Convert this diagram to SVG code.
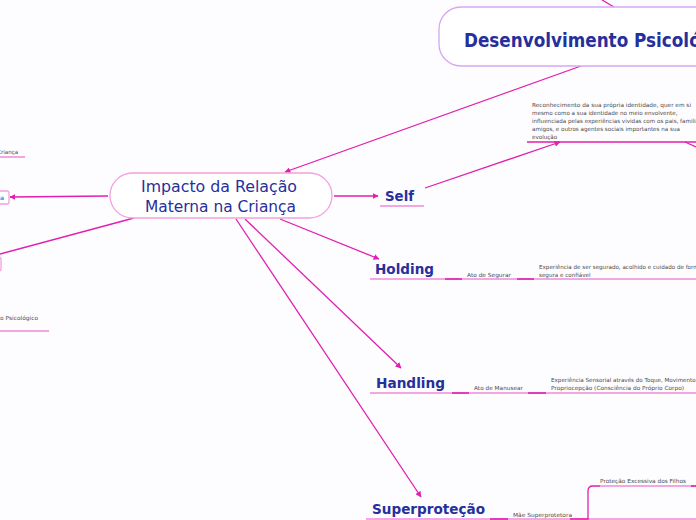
<svg xmlns="http://www.w3.org/2000/svg" width="696" height="520" viewBox="0 0 696 520">
<defs>
<marker id="arr" viewBox="0 0 10 10" refX="9" refY="5" markerWidth="6" markerHeight="6" markerUnits="userSpaceOnUse" orient="auto">
<path d="M0,0 L10,5 L0,10 z" fill="#e21fae"/>
</marker>
<style>
.c{stroke:#e21fae;stroke-width:1.3;fill:none}
.ul{stroke:#f2a6e2;stroke-width:2;fill:none}
.ud{stroke:#e03cbc;stroke-width:2;fill:none}
.t{font-family:"DejaVu Sans","Noto Sans",sans-serif;fill:#262f9c}
.b{font-weight:bold}
.s{font-family:"DejaVu Sans","Noto Sans",sans-serif;fill:#4a4a4a;font-size:5.6px}
</style>
</defs>
<rect width="696" height="520" fill="#fdfcfe"/>
<g id="connectors">
<path class="c" d="M602,0 L614,7"/>
<path class="c" d="M581,66 L285,172" marker-end="url(#arr)"/>
<path class="c" d="M108,196 L10,197" marker-end="url(#arr)"/>
<path class="c" d="M134,218 L0,254"/>
<path class="c" d="M334,196 L378,196" marker-end="url(#arr)"/>
<path class="c" d="M425,188 L560,142" marker-end="url(#arr)"/>
<path class="c" d="M685,142 L696,147"/>
<path class="c" d="M280,219 L379,259" marker-end="url(#arr)"/>
<path class="c" d="M245,219 L401,368" marker-end="url(#arr)"/>
<path class="c" d="M236,219 L421,497" marker-end="url(#arr)"/>
</g>
<g id="main">
<rect x="439" y="7" width="300" height="59" rx="22" fill="#ffffff" stroke="#d7a6f2" stroke-width="1.3"/>
<text class="t b" x="464" y="47" font-size="19" textLength="276" lengthAdjust="spacingAndGlyphs">Desenvolvimento Psicológico</text>
</g>
<g id="central">
<rect x="110" y="173" width="222" height="45" rx="22.5" fill="#ffffff" stroke="#f2a0de" stroke-width="1.3"/>
<text class="t" x="141" y="192" font-size="16" textLength="156" lengthAdjust="spacingAndGlyphs">Impacto da Relação</text>
<text class="t" x="145" y="212" font-size="16" textLength="151" lengthAdjust="spacingAndGlyphs">Materna na Criança</text>
</g>
<g id="left-crianca">
<text class="s" x="-3" y="154">Criança</text>
<path class="ul" d="M0,157 L25,157" stroke-width="1.3"/>
</g>
<g id="left-box">
<rect x="-40" y="191" width="49" height="13" rx="2" fill="#ffffff" stroke="#f2a0de" stroke-width="1.3"/>
<text x="0" y="200" font-family="DejaVu Sans,sans-serif" font-size="6" font-weight="bold" fill="#1aa0e6">a</text>
</g>
<g id="left-box2">
<rect x="-40" y="257" width="41" height="14" rx="2" fill="#ffffff" stroke="#f2a0de" stroke-width="1.3"/>
</g>
<g id="left-psico">
<text class="s" x="0" y="320" textLength="38" lengthAdjust="spacingAndGlyphs">o Psicológico</text>
<path class="ul" d="M0,331 L49,331" stroke-width="1.3"/>
</g>
<g id="self">
<text class="t b" x="385" y="201" font-size="14" textLength="29" lengthAdjust="spacingAndGlyphs">Self</text>
<path class="ul" d="M380,206 L424,206"/>
</g>
<g id="self-desc">
<text class="s" x="532" y="107" textLength="159" lengthAdjust="spacingAndGlyphs">Reconhecimento da sua própria identidade, quer em si</text>
<text class="s" x="532" y="115">mesmo como a sua identidade no meio envolvente,</text>
<text class="s" x="532" y="123">influenciada pelas experiências vividas com os pais, familiares,</text>
<text class="s" x="532" y="131">amigos, e outros agentes sociais importantes na sua</text>
<text class="s" x="532" y="139">evolução</text>
<path class="c" d="M527,142 L696,142"/>
</g>
<g id="holding">
<text class="t b" x="375" y="274" font-size="14" textLength="59" lengthAdjust="spacingAndGlyphs">Holding</text>
<path class="ul" d="M370,279 L696,279"/>
<path class="ud" d="M445,279 L462,279 M517,279 L534,279"/>
<text class="s" x="467" y="277" textLength="44" lengthAdjust="spacingAndGlyphs">Ato de Segurar</text>
<text class="s" x="539" y="269">Experiência de ser  segurado, acolhido e cuidado de forma</text>
<text class="s" x="539" y="277">segura e confiável</text>
</g>
<g id="handling">
<text class="t b" x="376" y="388" font-size="14" textLength="69" lengthAdjust="spacingAndGlyphs">Handling</text>
<path class="ul" d="M370,393 L696,393"/>
<path class="ud" d="M452,393 L469,393 M528,393 L546,393"/>
<text class="s" x="474" y="390" textLength="49" lengthAdjust="spacingAndGlyphs">Ato de Manusear</text>
<text class="s" x="551" y="382">Experiência Sensorial através do Toque, Movimento e</text>
<text class="s" x="551" y="390" textLength="133" lengthAdjust="spacingAndGlyphs">Propriocepção (Consciência do Próprio Corpo)</text>
</g>
<g id="superprotecao">
<text class="t b" x="372" y="514" font-size="14" textLength="113" lengthAdjust="spacingAndGlyphs">Superproteção</text>
<path class="ul" d="M366,519 L696,519"/>
<path class="ud" d="M490,519 L508,519"/>
<text class="s" x="513" y="517" textLength="59" lengthAdjust="spacingAndGlyphs">Mãe Superprotetora</text>
<path class="c" d="M570,519 L588,519 L588,491 Q588,486 593,486 L600,486" stroke-width="1.5"/>
<path class="ul" d="M600,486 L691,486"/>
<path class="ud" d="M691,486 L696,486"/>
<text class="s" x="600" y="483" textLength="86" lengthAdjust="spacingAndGlyphs">Proteção Excessiva dos Filhos</text>
</g>
</svg>
